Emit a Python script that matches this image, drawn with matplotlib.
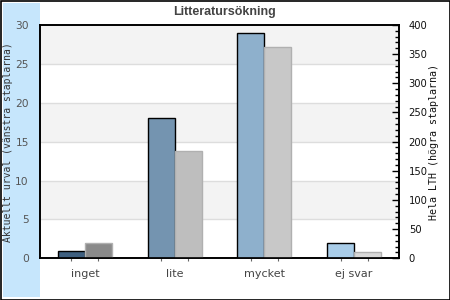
import matplotlib
matplotlib.use("Agg")
import matplotlib.pyplot as plt
from matplotlib.patches import Rectangle
from matplotlib.ticker import MultipleLocator
import numpy as np

categories = ["inget", "lite", "mycket", "ej svar"]
urval = [1, 18, 29, 2]
hela_lth = [26, 184, 362, 10]
left_colors = ["#3f6080", "#7494b0", "#8eb0cc", "#a9cde9"]
right_colors = ["#8a8a8a", "#bebebe", "#c8c8c8", "#d9d9d9"]
title = "Litteratursökning"
left_label = "Aktuellt urval (vänstra staplarna)"
right_label = "Hela LTH (högra staplarna)"

fig = plt.figure(figsize=(4.5, 3.0), dpi=100)
fig.patch.set_facecolor("white")
# outer border
fig.add_artist(Rectangle((0.5/450, 0.5/300), 449/450, 299/300, transform=fig.transFigure,
                         fill=False, edgecolor="black", linewidth=1.2))
# light blue band on the left
fig.add_artist(Rectangle((3/450, 3/300), 37/450, 294/300, transform=fig.transFigure,
                         facecolor="#c6e6fc", edgecolor="none", zorder=0))

ax = fig.add_axes([40/450, 41.7/300, 359/450, 233.3/300])
ax.set_xlim(0, len(categories))
ax.set_ylim(0, 30)
for lo in (5, 15, 25):
    ax.axhspan(lo, lo + 5, color="#f3f3f3", zorder=0, linewidth=0)
for y in (5, 10, 15, 20, 25):
    ax.axhline(y, color="#dddddd", linewidth=1, zorder=0.5)

x = np.arange(len(categories)) + 0.5
w = 0.3
ax.bar(x - w / 2, urval, width=w, color=left_colors, edgecolor="black", linewidth=1, zorder=3)

ax2 = ax.twinx()
ax2.set_ylim(0, 400)
ax2.bar(x + w / 2, hela_lth, width=w, color=right_colors, edgecolor="#b0b0b0", linewidth=1, zorder=2)

for a in (ax, ax2):
    for s in a.spines.values():
        s.set_color("black")
        s.set_linewidth(1.2)

ax.set_xticks(np.concatenate([x - w / 2, x + w / 2]))
ax.set_xticklabels([])
ax.tick_params(axis="x", length=2, color="#666666", width=0.8)
ax.set_xticks(x, minor=True)
ax.set_xticklabels(categories, minor=True)
ax.tick_params(axis="x", which="minor", length=0, pad=8, labelsize=8, labelcolor="#444444")

ax.set_yticks([0, 5, 10, 15, 20, 25, 30])
ax.tick_params(axis="y", length=0, pad=8, labelsize=7.7, labelcolor="#555555")
ax.set_ylabel(left_label, family="DejaVu Sans Mono", fontsize=7, color="#333333")
ax.yaxis.set_label_coords(-27/359, 0.5)

ax2.yaxis.set_major_locator(MultipleLocator(50))
ax2.yaxis.set_minor_locator(MultipleLocator(10))
ax2.tick_params(axis="y", which="major", direction="in", length=5, width=1, pad=7,
                labelsize=7.2, labelcolor="#111111")
ax2.tick_params(axis="y", which="minor", direction="in", length=3, width=1)
ax2.set_ylabel(right_label, family="DejaVu Sans Mono", fontsize=7.2, color="#111111")
ax2.yaxis.set_label_coords(1 + 30/359, 0.5)

fig.text(225/450, 1 - 12/300, title, ha="center", va="center", fontsize=9,
         fontweight="bold", color="#444444", family="Liberation Sans")

fig.savefig("out.png", dpi=100)
